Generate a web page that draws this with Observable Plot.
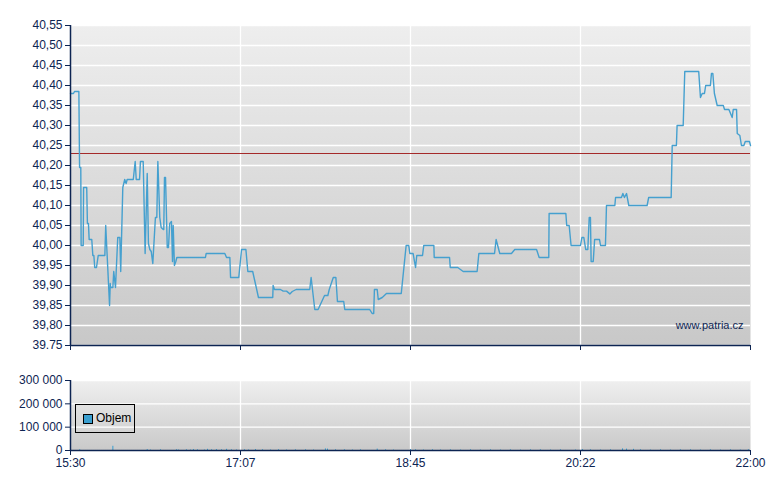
<!DOCTYPE html>
<html>
<head>
<meta charset="utf-8">
<script src="https://cdn.jsdelivr.net/npm/d3@7"></script>
<script src="https://cdn.jsdelivr.net/npm/@observablehq/plot@0.6"></script>
<style>
  html, body { margin: 0; padding: 0; background: #ffffff; }
  #wrap { position: relative; width: 780px; height: 490px; font-family: "Liberation Sans", Arial, sans-serif; }
  #wrap svg { display: block; }
  #legend { position: absolute; left: 75px; top: 404px; width: 58px; height: 27px; border: 1px solid #000; box-sizing: content-box; font-size: 12px; color: #000; }
  #legend .sw { position: absolute; left: 7px; top: 9px; width: 8px; height: 8px; background: #3a9fd0; border: 1px solid #000; }
  #legend .lb { position: absolute; left: 20px; top: 6px; }
</style>
</head>
<body>
<div id="wrap"></div>
<script>
// ---- data (minutes after 15:30, price) ----
const priceMinutes = [0,1.7,2.3,4.8,5.2,5.9,6.1,7.3,7.5,9.3,9.7,10.3,10.7,12.2,12.8,13.4,13.9,14.9,15.9,19.7,20.2,22.4,22.8,23.1,24.3,24.8,25.8,27.1,28.3,28.8,30.0,31.1,31.9,32.5,36.0,37.1,37.7,39.6,40.1,41.7,42.8,44.0,44.7,45.5,46.3,47.2,48.7,49.5,50.1,51.2,52.0,53.2,53.5,53.9,54.5,55.5,56.2,56.9,57.9,58.5,58.9,59.6,60.4,61.0,77.4,77.8,88.5,89.5,91.4,91.8,96.5,98.1,100.6,101.7,104.5,107.8,116.0,116.2,117.0,120.4,122.0,123.9,125.8,127.2,129.4,137.2,138.0,140.1,142.0,145.7,147.6,148.4,150.7,152.2,153.1,156.7,157.3,171.6,173.0,173.9,174.3,175.9,176.5,178.8,181.2,189.7,192.5,194.0,194.6,196.5,197.9,198.6,201.9,202.6,208.4,208.6,217.4,217.8,222.1,225.2,233.2,234.2,243.2,244.1,246.2,252.9,254.8,267.3,268.8,274.3,274.5,284.1,284.6,286.0,287.1,292.5,293.3,294.4,295.5,296.7,297.5,298.2,298.6,299.8,300.6,303.4,304.0,306.8,307.4,312.2,312.6,316.0,316.8,317.7,318.9,320.2,330.7,331.6,344.5,345.1,347.5,347.9,351.4,352.3,360.3,361.3,362.3,363.6,364.3,367.0,367.6,368.4,369.3,370.9,374.4,375.1,377.6,379.5,380.1,382.0,382.4,383.9,384.8,386.2,387.0,389.4,390];
const priceValues = [40.38,40.38,40.385,40.385,40.195,40.195,40.00,40.00,40.145,40.145,40.055,40.055,40.015,40.015,39.975,39.975,39.945,39.945,39.975,39.975,40.05,39.85,39.905,39.895,39.895,39.935,39.895,40.02,40.02,39.935,40.145,40.165,40.155,40.165,40.165,40.21,40.165,40.165,40.21,40.21,39.98,40.18,40.005,39.99,39.985,39.955,40.07,40.07,40.21,40.07,40.045,40.04,40.04,40.17,40.17,39.995,39.995,40.055,40.06,39.96,40.05,39.95,39.96,39.97,39.97,39.98,39.98,39.97,39.97,39.92,39.92,39.99,39.99,39.935,39.935,39.87,39.87,39.9,39.89,39.89,39.886,39.886,39.879,39.885,39.89,39.89,39.92,39.84,39.84,39.875,39.875,39.89,39.92,39.92,39.86,39.86,39.84,39.84,39.83,39.83,39.89,39.89,39.865,39.87,39.88,39.88,40.00,40.00,39.98,39.98,39.945,39.975,39.975,40.00,40.00,39.97,39.97,39.945,39.945,39.935,39.935,39.98,39.98,40.015,39.98,39.98,39.99,39.99,39.97,39.97,40.08,40.08,40.05,40.05,40.00,40.00,40.02,40.02,39.99,39.99,40.07,40.07,39.96,39.96,40.015,40.015,40.00,40.00,40.10,40.10,40.12,40.12,40.13,40.12,40.13,40.10,40.10,40.12,40.12,40.25,40.25,40.30,40.30,40.435,40.435,40.37,40.38,40.38,40.40,40.40,40.43,40.43,40.38,40.35,40.35,40.34,40.34,40.32,40.34,40.34,40.28,40.275,40.25,40.25,40.26,40.26,40.25];
const referencePrice = 40.23;

const volumeMinutes = [5.3,24.3,44.0,45.9,51.6,60.8,61.9,66.5,68.8,70.5,72.8,76.8,78.6,80.9,83.7,86.6,89.5,92.3,95.2,99.8,102.1,106.1,110.1,114.7,119.3,123.9,129.0,134.8,139.4,146.2,147.4,152.0,157.1,161.7,166.3,175.9,180.7,185.2,195.0,197.9,202.4,207.6,212.2,217.9,223.7,229.4,235.1,240.9,246.6,252.3,258.1,263.8,269.5,275.3,281.0,289.6,293.6,298.2,304.0,309.7,316.6,318.9,322.9,326.9,332.6,338.4,344.1,349.8,355.6,361.3,367.0,372.8,378.5,384.2,388.8];
const volumeValues = [3000,18000,4000,2000,3000,3000,2000,3000,2000,4000,3000,2000,5000,3000,4000,3000,5000,3000,2000,3000,2000,4000,3000,2000,3000,2000,3000,3000,2000,7000,6000,3000,3000,2000,3000,6000,3000,2000,4000,3000,2000,3000,2000,3000,2000,3000,2000,3000,2000,3000,2000,3000,3000,2000,3000,2000,4000,3000,2000,3000,7000,6000,5000,3000,2000,3000,2000,3000,3000,2000,3000,2000,3000,2000,3000];

const priceTicks = [39.75,39.80,39.85,39.90,39.95,40.00,40.05,40.10,40.15,40.20,40.25,40.30,40.35,40.40,40.45,40.50,40.55];
const priceTickLabels = ["39.75","39,80","39,85","39,90","39,95","40,00","40,05","40,10","40,15","40,20","40,25","40,30","40,35","40,40","40,45","40,50","40,55"];
const timeTickMinutes = [0,97.5,195,292.5,390];
const timeTickLabels = ["15:30","17:07","18:45","20:22","22:00"];
const volumeTicks = [0,100000,200000,300000];
const volumeTickLabels = ["0","100 000","200 000","300 000"];
const watermark = "www.patria.cz";

// ---- helpers ----
const base = new Date(2000, 0, 1, 15, 30, 0);
const toDate = m => new Date(base.getTime() + m * 60000);
const priceData = priceMinutes.map((m, i) => ({t: toDate(m), v: priceValues[i]}));
const volData = volumeMinutes.map((m, i) => ({t: toDate(m), v: volumeValues[i]}));
const timeTicks = timeTickMinutes.map(toDate);
const innerTimeTicks = timeTicks.slice(1, -1);
const xDomain = [toDate(0), toDate(390)];
const fmtTime = d => timeTickLabels[timeTicks.findIndex(t => +t === +d)];
const navy = "#0d2452";
const lineColor = "#45a0cf";
const font = "'Liberation Sans', Arial, sans-serif";

function addGradient(svg, id, top, bottom) {
  const defs = d3.select(svg).insert("defs", ":first-child");
  const g = defs.append("linearGradient").attr("id", id).attr("x1", 0).attr("y1", 0).attr("x2", 0).attr("y2", 1);
  g.append("stop").attr("offset", "0%").attr("stop-color", top);
  g.append("stop").attr("offset", "100%").attr("stop-color", bottom);
}

// ---- price panel ----
const pricePlot = Plot.plot({
  width: 780, height: 355,
  marginLeft: 70, marginRight: 30, marginTop: 25, marginBottom: 10,
  style: {fontFamily: font, fontSize: "12px", color: navy, background: "transparent", overflow: "visible"},
  x: {type: "time", domain: xDomain},
  y: {domain: [39.75, 40.55]},
  marks: [
    Plot.frame({fill: "url(#gPrice)", stroke: "none"}),
    Plot.gridY(priceTicks, {stroke: "#ffffff", strokeOpacity: 1, strokeWidth: 1.3}),
    Plot.gridX(innerTimeTicks, {stroke: "#ffffff", strokeOpacity: 1, strokeWidth: 1.3}),
    Plot.ruleY([referencePrice], {stroke: "#a52a2a", strokeWidth: 1}),
    Plot.line(priceData, {x: "t", y: "v", stroke: lineColor, strokeWidth: 1.4}),
    Plot.text([watermark], {frameAnchor: "bottom-right", dx: -7, dy: -17, fill: navy, fontSize: 11}),
    Plot.axisY(priceTicks, {tickSize: 5, tickPadding: 3, tickFormat: d => priceTickLabels[priceTicks.indexOf(d)], stroke: navy, fill: navy, fontSize: 12, label: null}),
    Plot.axisX(timeTicks, {tickSize: 5, tickFormat: () => "", stroke: navy, label: null}),
    Plot.ruleX([xDomain[0]], {stroke: navy, strokeWidth: 1.5}),
    Plot.ruleY([39.75], {stroke: navy, strokeWidth: 1.5})
  ]
});
addGradient(pricePlot, "gPrice", "#eeeeee", "#c8c8c8");

// ---- volume panel ----
const volPlot = Plot.plot({
  width: 780, height: 135,
  marginLeft: 70, marginRight: 30, marginTop: 25, marginBottom: 40,
  style: {fontFamily: font, fontSize: "12px", color: navy, background: "transparent", overflow: "visible"},
  x: {type: "time", domain: xDomain},
  y: {domain: [0, 300000]},
  marks: [
    Plot.frame({fill: "url(#gVol)", stroke: "none"}),
    Plot.gridY(volumeTicks.slice(1), {stroke: "#ffffff", strokeOpacity: 1, strokeWidth: 1.3}),
    Plot.gridX(innerTimeTicks, {stroke: "#ffffff", strokeOpacity: 1, strokeWidth: 1.3}),
    Plot.ruleX(volData, {x: "t", y1: 0, y2: "v", stroke: "#3a9fd0", strokeWidth: 1}),
    Plot.axisY(volumeTicks, {tickSize: 5, tickPadding: 3, tickFormat: d => volumeTickLabels[volumeTicks.indexOf(d)], stroke: navy, fill: navy, fontSize: 12, label: null}),
    Plot.axisX(timeTicks, {tickSize: 5, tickPadding: 3, tickFormat: fmtTime, stroke: navy, fill: navy, fontSize: 12, label: null}),
    Plot.ruleX([xDomain[0]], {stroke: navy, strokeWidth: 1.5}),
    Plot.ruleY([0], {stroke: navy, strokeWidth: 1.5})
  ]
});
addGradient(volPlot, "gVol", "#efefef", "#c9c9c9");

const wrap = document.getElementById("wrap");
wrap.appendChild(pricePlot);
wrap.appendChild(volPlot);
const leg = document.createElement("div");
leg.id = "legend";
leg.innerHTML = '<div class="sw"></div><div class="lb">Objem</div>';
wrap.appendChild(leg);
</script>
</body>
</html>
